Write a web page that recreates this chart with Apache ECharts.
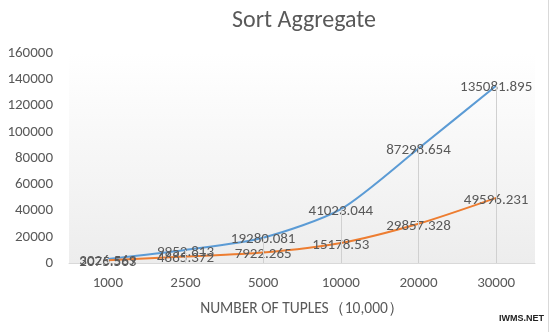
<!DOCTYPE html>
<html><head><meta charset="utf-8">
<script src="https://cdn.jsdelivr.net/npm/echarts@6/dist/echarts.min.js"></script>
<style>html,body{margin:0;padding:0;background:#fff}#c{width:550px;height:332px}</style>
</head><body><div id="c"></div>
<script>
const categories = ['1000','2500','5000','10000','20000','30000'];
const seriesA = [3026.569, 9952.813, 19280.081, 41023.044, 87298.654, 135081.895];
const seriesB = [2075.563, 4885.372, 7922.265, 15178.53, 29857.328, 49596.231];
const yTicks = {min:0, max:160000, interval:20000};

const chart = echarts.init(document.getElementById('c'));
const font = 'Calibri, Lato, "Open Sans", sans-serif';
const txt = '#595959';
const drop = categories.map((c,i)=>[{coord:[i,0]},{coord:[i,Math.max(seriesA[i],seriesB[i])]}]);
chart.setOption({
  animation:false,
  title:{text:'Sort Aggregate', left:227, top:4, textStyle:{fontFamily:font, fontSize:24, fontWeight:'normal', color:txt}},
  grid:{left:69, right:15, top:53, bottom:69, show:true, borderWidth:0,
    backgroundColor:{type:'linear',x:0,y:0,x2:0,y2:1,colorStops:[{offset:0,color:'#ffffff'},{offset:1,color:'#ededed'}]}},
  xAxis:{type:'category', data:categories, boundaryGap:true,
    axisLine:{lineStyle:{color:'#d9d9d9'}}, axisTick:{show:false},
    axisLabel:{color:txt, fontFamily:font, fontSize:15, margin:13},
    name:'NUMBER OF TUPLES（10,000）', nameLocation:'middle', nameGap:38,
    nameTextStyle:{color:txt, fontFamily:font, fontSize:15.5}},
  yAxis:{type:'value', min:yTicks.min, max:yTicks.max, interval:yTicks.interval,
    axisLine:{show:false}, axisTick:{show:false}, splitLine:{show:false},
    axisLabel:{color:txt, fontFamily:font, fontSize:15, margin:16, formatter:v=>String(v)}},
  series:[
    {type:'line', data:seriesA, smooth:0.25, symbol:'circle', symbolSize:0, showSymbol:true,
     lineStyle:{color:'#5B9BD5', width:2}, itemStyle:{color:'#5B9BD5'},
     label:{show:true, position:'inside', offset:[0,2], color:txt, fontFamily:font, fontSize:15, formatter:p=>String(p.value)},
     markLine:{silent:true, symbol:'none', label:{show:false}, lineStyle:{color:'#d0d0d0', width:1, type:'solid'}, data:drop}},
    {type:'line', data:seriesB, smooth:0.25, symbol:'circle', symbolSize:0, showSymbol:true,
     lineStyle:{color:'#ED7D31', width:2}, itemStyle:{color:'#ED7D31'},
     label:{show:true, position:'inside', offset:[0,2], color:txt, fontFamily:font, fontSize:15, formatter:p=>String(p.value)}}
  ],
  graphic:[
    {type:'line', shape:{x1:548.5,y1:0,x2:548.5,y2:332}, style:{stroke:'#d9d9d9', lineWidth:1}},
    {type:'text', right:6, bottom:9, style:{text:'IWMS.NET', fill:'#222', font:'bold 9px sans-serif'}}]
});
</script></body></html>
